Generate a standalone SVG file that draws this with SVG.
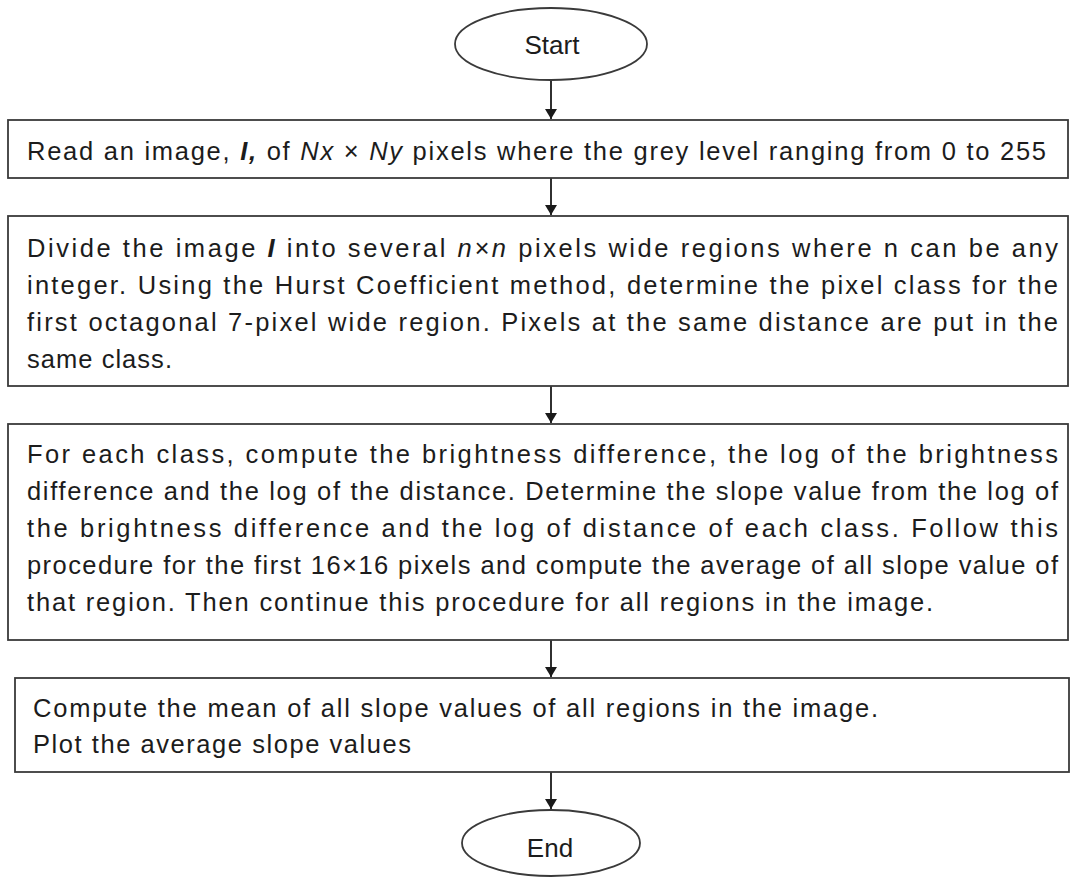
<svg xmlns="http://www.w3.org/2000/svg" width="1070" height="877" viewBox="0 0 1070 877">
<style>
.box{fill:#fff;stroke:#3a3a3a;stroke-width:1.8}
.t{font-family:"Liberation Sans",Arial,sans-serif;font-size:25.5px;fill:#1c1c1c}
.c{text-anchor:middle;font-size:26px}
.bi{font-weight:bold;font-style:italic}
.i{font-style:italic}
.conn{stroke:#1a1a1a;stroke-width:1.8;fill:none}
</style>
<defs>
<marker id="ah" viewBox="0 0 10 12" refX="10" refY="6" markerWidth="10" markerHeight="12" markerUnits="userSpaceOnUse" orient="auto">
<path d="M0,0 L10,6 L0,12 z" fill="#1a1a1a"/>
</marker>
</defs>
<rect width="1070" height="877" fill="#fff"/>
<g id="connectors">
<line class="conn" x1="551" y1="80" x2="551" y2="119" marker-end="url(#ah)"/>
<line class="conn" x1="551" y1="178" x2="551" y2="215" marker-end="url(#ah)"/>
<line class="conn" x1="551" y1="386" x2="551" y2="423" marker-end="url(#ah)"/>
<line class="conn" x1="551" y1="640" x2="551" y2="677" marker-end="url(#ah)"/>
<line class="conn" x1="551" y1="772" x2="551" y2="809" marker-end="url(#ah)"/>
</g>
<g id="start">
<ellipse class="box" cx="551" cy="44" rx="96" ry="36"/>
<text class="t c" x="552" y="54">Start</text>
</g>
<g id="read">
<rect class="box" x="8" y="120" width="1060" height="58"/>
<text class="t" x="27" y="160" textLength="1019" lengthAdjust="spacing">Read an image, <tspan class="bi">I,</tspan> of <tspan class="i">Nx</tspan> × <tspan class="i">Ny</tspan> pixels where the grey level ranging from 0 to 255</text>
</g>
<g id="divide">
<rect class="box" x="8" y="216" width="1060" height="170"/>
<text class="t" x="27" y="257" textLength="1031" lengthAdjust="spacing">Divide the image <tspan class="bi">I</tspan> into several <tspan class="i">n×n</tspan> pixels wide regions where n can be any</text>
<text class="t" x="27" y="294" textLength="1031" lengthAdjust="spacing">integer. Using the Hurst Coefficient method, determine the pixel class for the</text>
<text class="t" x="27" y="331" textLength="1031" lengthAdjust="spacing">first octagonal 7-pixel wide region. Pixels at the same distance are put in the</text>
<text class="t" x="27" y="368" textLength="145" lengthAdjust="spacing">same class.</text>
</g>
<g id="compute">
<rect class="box" x="8" y="424" width="1060" height="216"/>
<text class="t" x="27" y="463" textLength="1031" lengthAdjust="spacing">For each class, compute the brightness difference, the log of the brightness</text>
<text class="t" x="27" y="500" textLength="1031" lengthAdjust="spacing">difference and the log of the distance. Determine the slope value from the log of</text>
<text class="t" x="27" y="537" textLength="1031" lengthAdjust="spacing">the brightness difference and the log of distance of each class. Follow this</text>
<text class="t" x="27" y="574" textLength="1031" lengthAdjust="spacing">procedure for the first 16×16 pixels and compute the average of all slope value of</text>
<text class="t" x="27" y="611" textLength="906" lengthAdjust="spacing">that region. Then continue this procedure for all regions in the image.</text>
</g>
<g id="mean">
<rect class="box" x="15" y="678" width="1054" height="94"/>
<text class="t" x="33" y="717" textLength="845" lengthAdjust="spacing">Compute the mean of all slope values of all regions in the image.</text>
<text class="t" x="33" y="753" textLength="378" lengthAdjust="spacing">Plot the average slope values</text>
</g>
<g id="end">
<ellipse class="box" cx="551" cy="843" rx="89" ry="33"/>
<text class="t c" x="550" y="857">End</text>
</g>
</svg>
